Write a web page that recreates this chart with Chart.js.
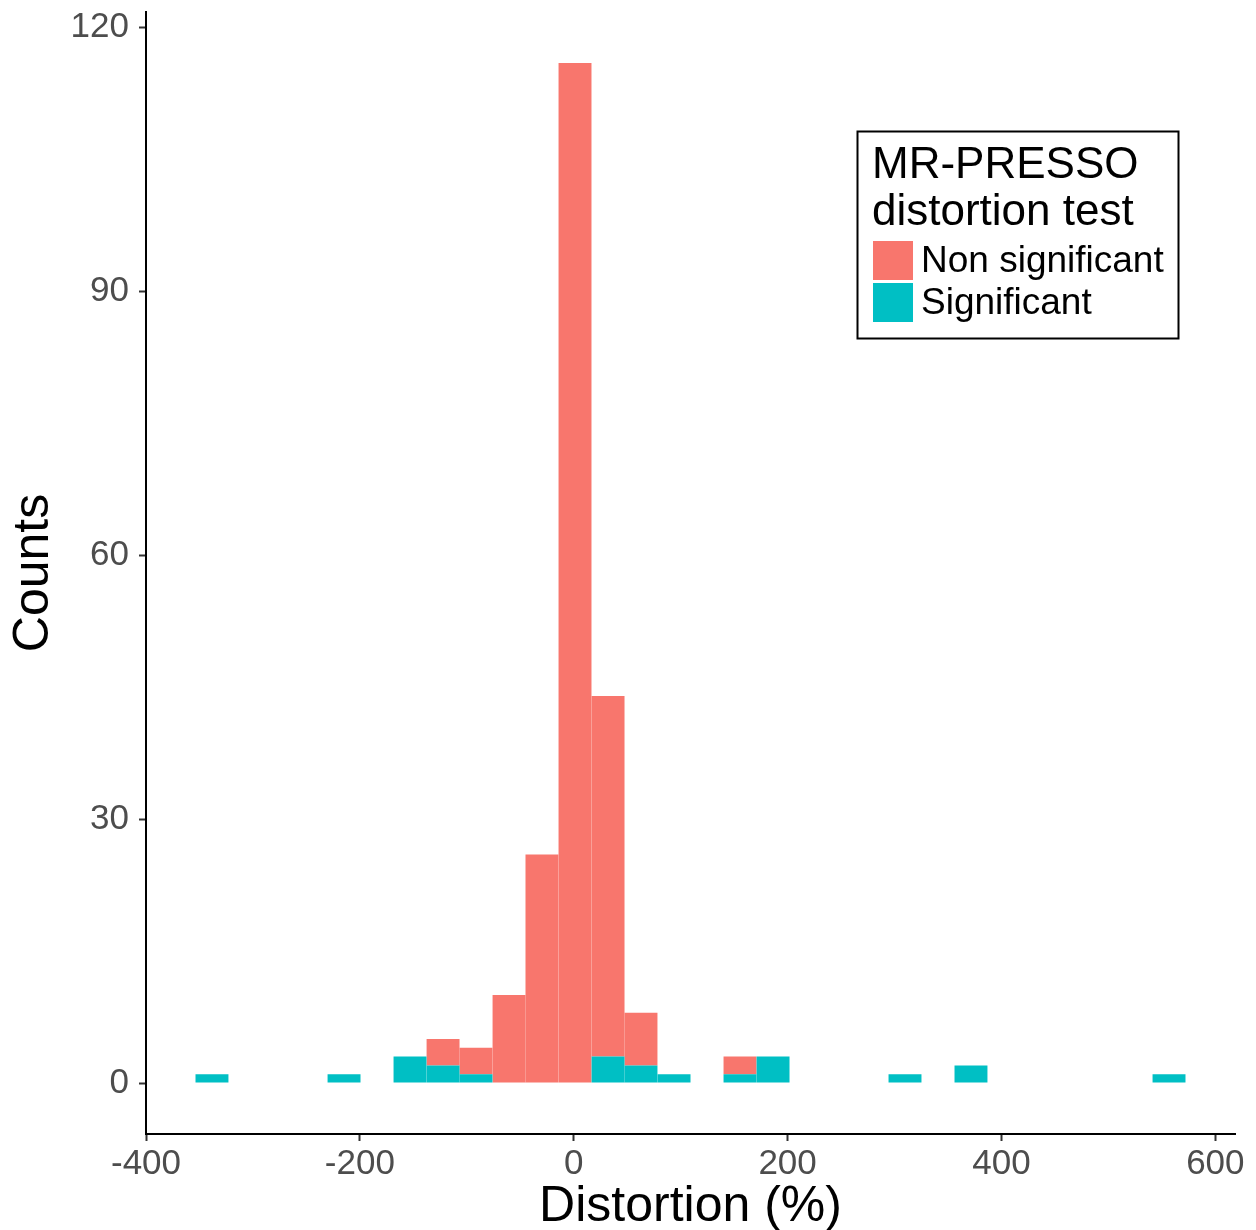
<!DOCTYPE html>
<html>
<head>
<meta charset="utf-8">
<title>MR-PRESSO distortion test</title>
<script src="https://cdn.jsdelivr.net/npm/chart.js@4"></script>
<style>
    body { margin: 0; background: #fff; }
    #wrap { width: 1256px; height: 1230px; }
</style>
</head>
<body>
<div id="wrap"><canvas id="distortionChart" width="1256" height="1230"></canvas></div>
<script>
// histogram bins (centre of each bin, % distortion)
const binCenters = [-338.3, -307.4, -276.6, -245.7, -214.8, -184.0, -153.1, -122.2, -91.4, -60.5,
                    -29.7, 1.2, 32.1, 62.9, 93.8, 124.6, 155.5, 186.4, 217.2, 248.1,
                    278.9, 309.8, 340.7, 371.5, 402.4, 433.2, 464.1, 495.0, 525.8, 556.7];
const significantCounts    = [1, 0, 0, 0, 1, 0, 3, 2, 1, 0, 0, 0, 3, 2, 1, 0, 1, 3, 0, 0, 0, 1, 0, 2, 0, 0, 0, 0, 0, 1];
const nonSignificantCounts = [0, 0, 0, 0, 0, 0, 0, 3, 3, 10, 26, 116, 41, 6, 0, 0, 2, 0, 0, 0, 0, 0, 0, 0, 0, 0, 0, 0, 0, 0];
const xTicks = [-400, -200, 0, 200, 400, 600];
const yTicks = [0, 30, 60, 90, 120];
const seriesNames = ['Non significant', 'Significant'];
const seriesColors = ['#F8766D', '#00BFC4'];

const FONT = "'Liberation Sans', Arial, Helvetica, sans-serif";

function toPoints(values) {
    return values.map(function(v, i) { return { x: binCenters[i], y: v }; });
}

// ggplot style legend box drawn inside the plot
const legendBox = {
    id: 'legendBox',
    afterDraw: function(chart) {
        const ctx = chart.ctx;
        ctx.save();
        ctx.fillStyle = '#fff';
        ctx.fillRect(857, 131, 322, 208);
        ctx.strokeStyle = '#000';
        ctx.lineWidth = 2;
        ctx.strokeRect(857.5, 131.5, 321, 207);

        ctx.fillStyle = '#000';
        ctx.textAlign = 'left';
        ctx.textBaseline = 'alphabetic';
        ctx.font = '44px ' + FONT;
        ctx.fillText('MR-PRESSO', 872, 178);
        ctx.fillText('distortion test', 872, 225);

        ctx.font = '37px ' + FONT;
        for (let i = 0; i < seriesNames.length; i++) {
            const top = 241 + i * 42;
            ctx.fillStyle = seriesColors[i];
            ctx.fillRect(873, top, 40, 39);
            ctx.fillStyle = '#000';
            ctx.fillText(seriesNames[i], 921, top + 31);
        }
        ctx.restore();
    }
};

new Chart(document.getElementById('distortionChart'), {
    type: 'bar',
    data: {
        datasets: [{
            label: 'Significant',
            data: toPoints(significantCounts),
            backgroundColor: seriesColors[1],
            borderWidth: 0,
            inflateAmount: 0,
            barPercentage: 1,
            categoryPercentage: 1
        }, {
            label: 'Non significant',
            data: toPoints(nonSignificantCounts),
            backgroundColor: seriesColors[0],
            borderWidth: 0,
            inflateAmount: 0,
            barPercentage: 1,
            categoryPercentage: 1
        }]
    },
    options: {
        responsive: false,
        animation: false,
        layout: { padding: { left: 0, right: 21, top: 12, bottom: 0 } },
        plugins: {
            legend: { display: false },
            tooltip: { enabled: false }
        },
        scales: {
            x: {
                type: 'linear',
                stacked: true,
                offset: false,
                min: -400,
                max: 618.4,
                afterBuildTicks: function(scale) {
                    scale.ticks = xTicks.map(function(v) { return { value: v }; });
                },
                afterFit: function(scale) {
                    scale.height = 96;
                    scale.paddingLeft = 0;
                    scale.paddingRight = 0;
                },
                grid: {
                    drawOnChartArea: false,
                    offset: false,
                    tickLength: 7,
                    tickColor: '#333',
                    tickWidth: 2
                },
                border: { display: true, color: '#000', width: 2 },
                ticks: {
                    color: '#4D4D4D',
                    padding: 2,
                    maxRotation: 0,
                    autoSkip: false,
                    font: { family: FONT, size: 35 }
                },
                title: {
                    display: true,
                    text: 'Distortion (%)',
                    color: '#000',
                    padding: 0,
                    font: { family: FONT, size: 50, lineHeight: 0.92 }
                }
            },
            y: {
                stacked: true,
                min: -5.8,
                max: 121.8,
                afterBuildTicks: function(scale) {
                    scale.ticks = yTicks.map(function(v) { return { value: v }; });
                },
                afterFit: function(scale) {
                    scale.width = 146;
                    scale.paddingTop = 0;
                    scale.paddingBottom = 0;
                },
                grid: {
                    drawOnChartArea: false,
                    tickLength: 7,
                    tickColor: '#333',
                    tickWidth: 2
                },
                border: { display: true, color: '#000', width: 2 },
                ticks: {
                    color: '#4D4D4D',
                    padding: 10,
                    autoSkip: false,
                    font: { family: FONT, size: 35 }
                },
                title: {
                    display: true,
                    text: 'Counts',
                    color: '#000',
                    padding: { top: 4, bottom: 0 },
                    font: { family: FONT, size: 50, lineHeight: 1.2 }
                }
            }
        }
    },
    plugins: [legendBox]
});
</script>
</body>
</html>
